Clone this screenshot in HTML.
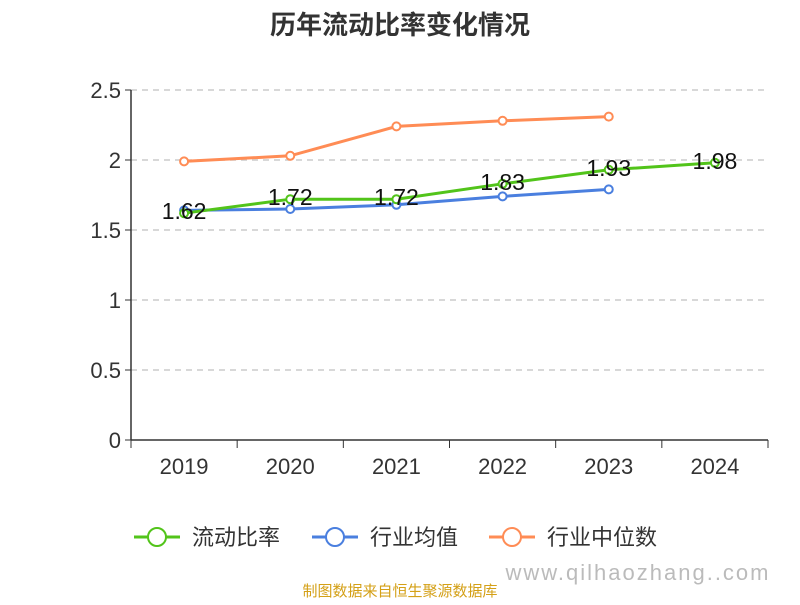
<!DOCTYPE html>
<html><head><meta charset="utf-8"><style>
body{margin:0;background:#fff;width:800px;height:600px;overflow:hidden;font-family:"Liberation Sans","Noto Sans CJK SC",sans-serif}
</style></head><body>
<svg id="chart" width="800" height="600" style="font-family:'Liberation Sans','Noto Sans CJK SC',sans-serif">
<text x="400" y="34" text-anchor="middle" font-size="26" font-weight="bold" fill="#333">历年流动比率变化情况</text>
<g id="grid"></g><g id="axes"></g><g id="series"></g><g id="labels"></g>
<g>
<g><line x1="134" y1="537" x2="180" y2="537" stroke="#52c41a" stroke-width="3"/><circle cx="157" cy="537" r="9" fill="#fff" stroke="#52c41a" stroke-width="2"/><text x="192" y="545" font-size="22" fill="#333">流动比率</text></g>
<g><line x1="312" y1="537" x2="358" y2="537" stroke="#4a7fdf" stroke-width="3"/><circle cx="335" cy="537" r="9" fill="#fff" stroke="#4a7fdf" stroke-width="2"/><text x="370" y="545" font-size="22" fill="#333">行业均值</text></g>
<g><line x1="489" y1="537" x2="535" y2="537" stroke="#ff8c55" stroke-width="3"/><circle cx="512" cy="537" r="9" fill="#fff" stroke="#ff8c55" stroke-width="2"/><text x="547" y="545" font-size="22" fill="#333">行业中位数</text></g>
</g>
<text x="400" y="596" text-anchor="middle" font-size="15" fill="#d4a017">制图数据来自恒生聚源数据库</text>
<text x="638" y="580" text-anchor="middle" font-size="22" fill="#bbb" letter-spacing="2">www.qilhaozhang..com</text>
</svg>
<script>
const categories=["2019","2020","2021","2022","2023","2024"];
const ratioValues=[1.62,1.72,1.72,1.83,1.93,1.98];
const meanValues=[1.64,1.65,1.68,1.74,1.79];
const medianValues=[1.99,2.03,2.24,2.28,2.31];
const yTicks=[0,0.5,1,1.5,2,2.5];
const NS="http://www.w3.org/2000/svg";
const x0=131,x1=768,yb=440,yt=90;
const bw=(x1-x0)/categories.length;
const xs=i=>x0+bw*(i+0.5);
const ys=v=>yb-(v/2.5)*(yb-yt);
function mk(tag,attrs,parent){const e=document.createElementNS(NS,tag);for(const k in attrs)e.setAttribute(k,attrs[k]);document.getElementById(parent).appendChild(e);return e;}
yTicks.forEach(t=>{
 if(t>0){const g=mk('line',{x1:x0,x2:x1,y1:ys(t),y2:ys(t),stroke:'#ccc','stroke-dasharray':'6,5','stroke-width':1.5},'grid');
 
 }
 const tk=mk('line',{x1:x0-6,x2:x0,y1:ys(t),y2:ys(t),stroke:'#333'},'axes');
 
 
 const l=mk('text',{x:x0-10,y:ys(t)+8,'text-anchor':'end','font-size':22,fill:'#333'},'axes');
 l.textContent=t;
 
 
});
const ya=mk('line',{x1:x0,x2:x0,y1:yt,y2:yb,stroke:'#333','stroke-width':1.5},'axes');


const xa=mk('line',{x1:x0,x2:x1,y1:yb,y2:yb,stroke:'#333','stroke-width':1.5},'axes');


for(let i=0;i<=categories.length;i++){const tk=mk('line',{x1:x0+bw*i,x2:x0+bw*i,y1:yb,y2:yb+8,stroke:'#333'},'axes');
 
 }
categories.forEach((c,i)=>{const l=mk('text',{x:xs(i),y:474,'text-anchor':'middle','font-size':22,fill:'#333'},'axes');
 l.textContent=c;
 
 });
function series(vals,color,name){
 const p=mk('polyline',{points:vals.map((v,i)=>xs(i)+','+ys(v)).join(' '),fill:'none',stroke:color,'stroke-width':3},'series');
 
 
 vals.forEach((v,i)=>{const c=mk('circle',{cx:xs(i),cy:ys(v),r:4,fill:'#fff',stroke:color,'stroke-width':2},'series');
  
  });
}
series(medianValues,'#ff8c55','industry-median');
series(meanValues,'#4a7fdf','industry-mean');
series(ratioValues,'#52c41a','current-ratio');
ratioValues.forEach((v,i)=>{const l=mk('text',{x:xs(i),y:ys(v)+6,'text-anchor':'middle','font-size':23,fill:'#111'},'labels');
 l.textContent=v.toFixed(2);
 
 });
</script>
</body></html>
